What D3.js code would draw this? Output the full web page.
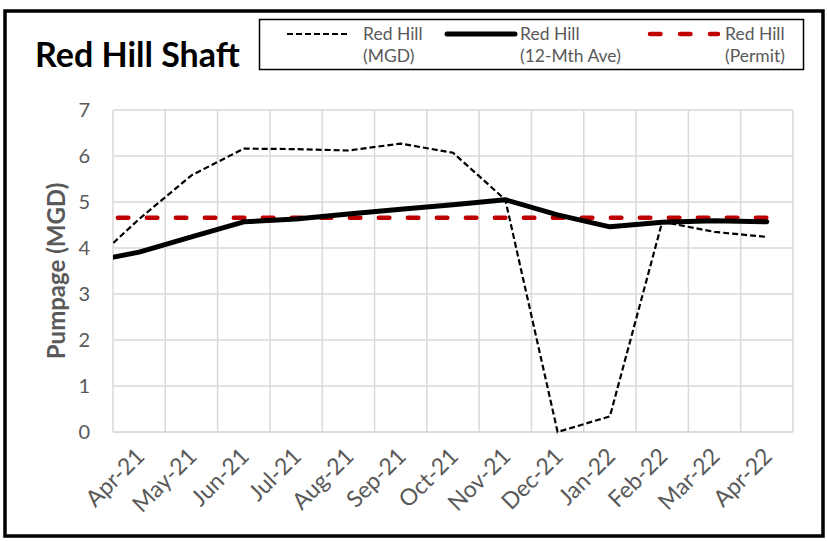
<!DOCTYPE html>
<html>
<head>
<meta charset="utf-8">
<script src="https://d3js.org/d3.v7.min.js"></script>
<style>
  body { margin: 0; background: #fff; }
  text { font-family: Lato, "Open Sans", sans-serif; }
</style>
</head>
<body>
<script>
// months plotted; the first one sits just left of the axis and only its line segment shows
var months = ["Mar-21", "Apr-21", "May-21", "Jun-21", "Jul-21", "Aug-21", "Sep-21",
              "Oct-21", "Nov-21", "Dec-21", "Jan-22", "Feb-22", "Mar-22", "Apr-22"];
var mgd    = [3.58, 4.63, 5.58, 6.16, 6.15, 6.12, 6.27, 6.07, 5.05, 0.00, 0.34, 4.57, 4.35, 4.24];
var avg12  = [3.69, 3.91, 4.24, 4.57, 4.63, 4.74, 4.84, 4.94, 5.05, 4.72, 4.46, 4.56, 4.59, 4.57];
var permit = [4.66, 4.66, 4.66, 4.66, 4.66, 4.66, 4.66, 4.66, 4.66, 4.66, 4.66, 4.66, 4.66, 4.66];
var xLabels = ["Apr-21", "May-21", "Jun-21", "Jul-21", "Aug-21", "Sep-21", "Oct-21",
               "Nov-21", "Dec-21", "Jan-22", "Feb-22", "Mar-22", "Apr-22"];
var yTicks = [0, 1, 2, 3, 4, 5, 6, 7];

var W = 827, H = 541;
var pLeft = 113, pRight = 793, pTop = 110, pBottom = 432;
var grey = "#595959";

var svg = d3.select("body").append("svg")
    .attr("width", W).attr("height", H);

// outer frame
svg.append("rect")
    .attr("x", 5).attr("y", 11).attr("width", 818).attr("height", 525)
    .attr("fill", "#fff").attr("stroke", "#000").attr("stroke-width", 3.5);

var x = d3.scaleLinear().domain([0, xLabels.length]).range([pLeft, pRight]);
var y = d3.scaleLinear().domain([0, 7]).range([pBottom, pTop]);
// month i of the data array sits in the middle of its month band
function px(i) { return x(i - 0.5); }

// gridlines
svg.append("g").selectAll("line").data(yTicks.slice(1)).enter().append("line")
    .attr("x1", pLeft).attr("x2", pRight)
    .attr("y1", function (d) { return y(d); }).attr("y2", function (d) { return y(d); })
    .attr("stroke", "#d9d9d9").attr("stroke-width", 1.5);
svg.append("g").selectAll("line").data(d3.range(xLabels.length + 1)).enter().append("line")
    .attr("x1", function (d) { return x(d); }).attr("x2", function (d) { return x(d); })
    .attr("y1", pTop).attr("y2", pBottom)
    .attr("stroke", "#d9d9d9").attr("stroke-width", 1.5);
svg.append("line")
    .attr("x1", pLeft).attr("x2", pRight).attr("y1", pBottom).attr("y2", pBottom)
    .attr("stroke", "#d0d0d0").attr("stroke-width", 1.5);

// y tick labels
svg.append("g").selectAll("text").data(yTicks).enter().append("text")
    .attr("x", 90).attr("y", function (d) { return y(d); })
    .attr("dy", "0.35em").attr("text-anchor", "end")
    .attr("font-size", 20).attr("fill", grey)
    .text(function (d) { return d; });

// x tick labels
svg.append("g").selectAll("text").data(xLabels).enter().append("text")
    .attr("transform", function (d, i) { return "translate(" + (x(i + 0.5) + 1) + "," + 452 + ") rotate(-45)"; })
    .attr("dy", "0.35em").attr("text-anchor", "end")
    .attr("font-size", 23).attr("fill", grey)
    .text(function (d) { return d; });

// axis title
svg.append("text")
    .attr("transform", "translate(57," + ((pTop + pBottom) / 2) + ") rotate(-90)")
    .attr("text-anchor", "middle").attr("dy", "0.35em")
    .attr("font-size", 24).attr("font-weight", "bold").attr("fill", grey)
    .text("Pumpage (MGD)");

// series, clipped to the plot area
svg.append("clipPath").attr("id", "plot")
  .append("rect").attr("x", pLeft).attr("y", pTop - 10)
    .attr("width", pRight - pLeft).attr("height", pBottom - pTop + 20);

var plot = svg.append("g").attr("clip-path", "url(#plot)");
function line(vals) {
  return d3.line().x(function (d, i) { return px(i); }).y(function (d) { return y(d); })(vals);
}

plot.append("path").attr("d", line(permit))
    .attr("fill", "none").attr("stroke", "#c00000").attr("stroke-width", 4.5)
    .attr("stroke-linecap", "round").attr("stroke-dasharray", "10.5,18.5")
    .attr("stroke-dashoffset", -2);
plot.append("path").attr("d", line(avg12))
    .attr("fill", "none").attr("stroke", "#000").attr("stroke-width", 5)
    .attr("stroke-linejoin", "round").attr("stroke-linecap", "round");
plot.append("path").attr("d", line(mgd))
    .attr("fill", "none").attr("stroke", "#000").attr("stroke-width", 2.2)
    .attr("stroke-dasharray", "6,3");

// title
svg.append("text")
    .attr("x", 35).attr("y", 67)
    .attr("font-size", 34).attr("font-weight", "bold").attr("fill", "#000")
    .text("Red Hill Shaft");

// legend
var legend = svg.append("g");
legend.append("rect")
    .attr("x", 259.5).attr("y", 19.5).attr("width", 544).attr("height", 50)
    .attr("fill", "#fff").attr("stroke", "#000").attr("stroke-width", 1.5);

var legendItems = [
  { x1: 287, x2: 347, tx: 363, color: "#000", width: 2.2, dash: "6,3", cap: "butt", lines: ["Red Hill", "(MGD)"] },
  { x1: 447, x2: 515, tx: 520, color: "#000", width: 5, dash: null, cap: "round", lines: ["Red Hill", "(12-Mth Ave)"] },
  { x1: 650, x2: 718, tx: 725, color: "#c00000", width: 4.5, dash: "10.5,19.5", cap: "round", lines: ["Red Hill", "(Permit)"] }
];
legendItems.forEach(function (it) {
  legend.append("line")
      .attr("x1", it.x1).attr("x2", it.x2).attr("y1", 34).attr("y2", 34)
      .attr("stroke", it.color).attr("stroke-width", it.width)
      .attr("stroke-dasharray", it.dash).attr("stroke-linecap", it.cap);
  legend.append("text")
      .attr("x", it.tx).attr("y", 40)
      .attr("font-size", 17.5).attr("fill", grey)
      .selectAll("tspan").data(it.lines).enter().append("tspan")
      .attr("x", it.tx).attr("dy", function (d, i) { return i ? 22 : 0; })
      .text(function (d) { return d; });
});
</script>
</body>
</html>
